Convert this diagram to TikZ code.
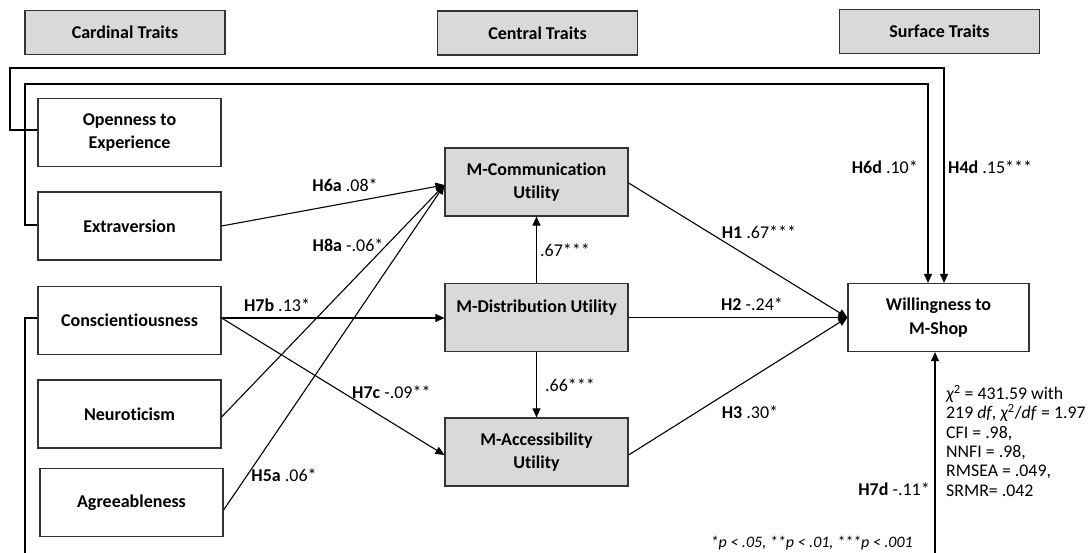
\documentclass[tikz,border=0pt]{standalone}
\usepackage{fontspec}
\setmainfont{Carlito}[Ligatures={NoCommon}]
\usetikzlibrary{arrows.meta,calc}
\definecolor{boxgray}{HTML}{D9D9D9}
\definecolor{edgegray}{HTML}{333333}
\newcommand\lblfont{\fontsize{18}{23.5}\selectfont}
\newcommand\statfont{\fontsize{17.8}{19.3}\selectfont}
\newcommand\notefont{\fontsize{16}{19}\selectfont}
\begin{document}
\begin{tikzpicture}[x=1pt,y=-1pt,
  box/.style={draw=edgegray, line width=1.2pt, minimum width=183pt, minimum height=68pt,
    inner sep=2pt, align=center, font=\lblfont\bfseries, fill=white},
  gbox/.style={box, fill=boxgray},
  hbox/.style={box, fill=boxgray, minimum width=200pt, minimum height=44pt},
  arr/.style={draw=black, line width=1.1pt, -{Triangle[length=9pt,width=8pt]}},
  lab/.style={font=\lblfont, inner sep=0pt}
]
\path[use as bounding box, fill=white] (0,0) rectangle (1090,553);
\clip (0,0) rectangle (1090,553);

% header boxes
\node[hbox] (card) at (125,32.5) {Cardinal Traits};
\node[hbox] (cent) at (537.5,33) {Central Traits};
\node[hbox] (surf) at (939.5,31.5) {Surface Traits};

% cardinal traits
\node[box] (open) at (129.5,132.5) {Openness to\\Experience};
\node[box] (extra) at (129.5,226) {Extraversion};
\node[box] (consc) at (129.5,320.5) {Conscientiousness};
\node[box] (neuro) at (129.5,414) {Neuroticism};
\node[box] (agree) at (131.5,502.5) {Agreeableness};

% central traits
\node[gbox] (mcomm) at (536.5,182) {M-Communication\\Utility};
\node[gbox] (mdist) at (536.5,317.5) {M-Distribution Utility\\\mbox{}};
\node[gbox] (macc) at (536.5,452) {M-Accessibility\\Utility};

% surface trait
\node[box, minimum width=181pt] (will) at (938.5,317.5) {Willingness to\\M-Shop};

% helper coordinates
\coordinate (cin) at ([yshift=-3pt]mcomm.west);
\coordinate (ain) at ([yshift=-3pt]macc.west);
\coordinate (aout) at ([yshift=-3pt]macc.east);
\coordinate (cout) at ([yshift=-1pt]mcomm.east);
\coordinate (oW) at ([yshift=2.5pt]open.west);
\coordinate (eW) at ([yshift=1pt]extra.west);
\coordinate (kW) at ([yshift=2.5pt]consc.west);
\coordinate (kE) at ([yshift=2.5pt]consc.east);
\coordinate (nE) at ([yshift=-3pt]neuro.east);
\coordinate (gE) at ([yshift=-7.5pt]agree.east);
\coordinate (o1) at (10,130);
\coordinate (o2) at (10,68);
\coordinate (o3) at (944,68);
\coordinate (e1) at (25,225);
\coordinate (e2) at (25,84);
\coordinate (e3) at (928,84);
\coordinate (k1) at (25,318);
\coordinate (k2) at (25,600);
\coordinate (k3) at (935,600);

% feedback paths to willingness
\draw[arr] (oW) -- (o1) -- (o2) -- (o3) -- (o3 |- will.north);
\draw[arr] (eW) -- (e1) -- (e2) -- (e3) -- (e3 |- will.north);
\draw[arr] (kW) -- (k1) -- (k2) -- (k3) -- (k3 |- will.south);

% cardinal -> central
\draw[arr] (extra.east) -- (cin);
\draw[arr] (nE) -- (cin);
\draw[arr] (gE) -- (cin);
\draw[arr] (kE) -- (mdist.west |- kE);
\draw[arr] (kE) -- (ain);

% central internal
\draw[arr] (mdist.north) -- (mcomm.south);
\draw[arr] (mdist.south) -- (macc.north);

% central -> surface
\draw[arr] (cout) -- (will.west);
\draw[arr] (mdist.east) -- (will.west);
\draw[arr] (aout) -- (will.west);

% labels
\node[lab] (lH6a) at (345,185) {\textbf{H6a} .08*};
\node[lab] (lH8a) at (348,245) {\textbf{H8a} -.06*};
\node[lab] (lH5a) at (284,475) {\textbf{H5a} .06*};
\node[lab] (lH7b) at (277,305) {\textbf{H7b} .13*};
\node[lab, anchor=west] (lH7c) at (352,392) {\textbf{H7c} -.09**};
\node[lab] (l67) at (565,250) {.67***};
\node[lab] (l66) at (570,385) {.66***};
\node[lab] (lH1) at (759,232) {\textbf{H1} .67***};
\node[lab] (lH2) at (752,304) {\textbf{H2} -.24*};
\node[lab] (lH3) at (750,412) {\textbf{H3} .30*};
\node[lab, anchor=east] (lH6d) at (918,167) {\textbf{H6d} .10*};
\node[lab, anchor=west] (lH4d) at (948,167) {\textbf{H4d} .15***};
\node[lab, anchor=east] (lH7d) at (930,489) {\textbf{H7d} -.11*};

\node[anchor=north west, inner sep=0pt, align=left, font=\statfont] (stats) at (946,385)
  {{\itshape χ}\textsuperscript{2} = 431.59 with\\
   219 \textit{df}, {\itshape χ}\textsuperscript{2}/\textit{df} = 1.97\\
   CFI = .98,\\
   NNFI = .98,\\
   RMSEA = .049,\\
   SRMR= .042};

\node[anchor=east, inner sep=0pt, font=\notefont\itshape] (note) at (913,543)
  {*p < .05, **p < .01, ***p < .001};
\end{tikzpicture}
\end{document}
